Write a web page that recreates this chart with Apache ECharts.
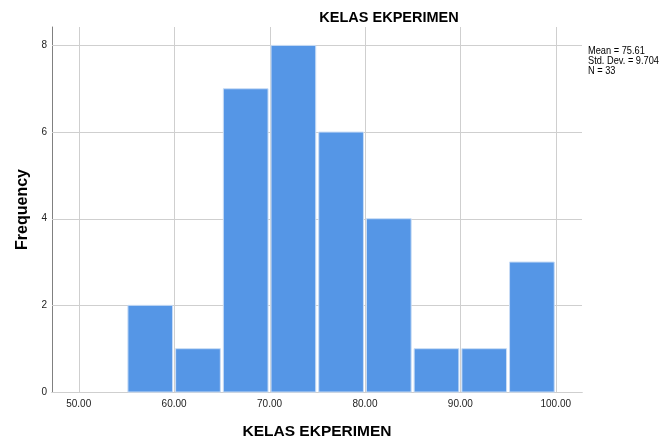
<!DOCTYPE html>
<html>
<head>
<meta charset="utf-8">
<script src="https://cdn.jsdelivr.net/npm/echarts@6/dist/echarts.min.js"></script>
<style>
  html, body { margin: 0; padding: 0; background: #ffffff; }
  #chart { width: 664px; height: 439px; }
</style>
</head>
<body>
<div id="chart"></div>
<script>
// Histogram bins (lower edge, upper edge) and their frequencies
const binStarts = [55, 60, 65, 70, 75, 80, 85, 90, 95];
const binEnds = [60, 65, 70, 75, 80, 85, 90, 95, 100];
const frequencies = [2, 1, 7, 8, 6, 4, 1, 1, 3];
const xTicks = [50, 60, 70, 80, 90, 100];
const yTicks = [0, 2, 4, 6, 8];
const statsLines = ['Mean = 75.61', 'Std. Dev. = 9.704', 'N = 33'];

const binData = binStarts.map((s, i) => [s, binEnds[i], frequencies[i]]);

const X_MIN = 47.2, X_MAX = 102.75, Y_MAX = 8.425;
const chart = echarts.init(document.getElementById('chart'));
const FONT = '"Liberation Sans", Arial, sans-serif';

chart.setOption({
  animation: false,
  backgroundColor: '#ffffff',
  graphic: [
    {
      type: 'text', x: 389, y: 17.5,
      style: { text: 'KELAS EKPERIMEN', font: 'bold 14.5px ' + FONT, fill: '#000',
               align: 'center', verticalAlign: 'middle' }
    },
    {
      type: 'text', x: 588, y: 46.5, scaleX: 0.88,
      style: { text: statsLines.join('\n'), font: '10.5px ' + FONT, fill: '#000', lineHeight: 9.8 }
    }
  ],
  grid: { left: 52, right: 82, top: 27, bottom: 47, outerBoundsMode: 'none' },
  xAxis: {
    type: 'value', min: X_MIN, max: X_MAX,
    name: 'KELAS EKPERIMEN', nameLocation: 'middle', nameGap: 32,
    nameTextStyle: { fontFamily: FONT, fontSize: 15.5, fontWeight: 'bold', color: '#000' },
    axisLine: { show: true, lineStyle: { color: '#a8a8a8', width: 1 } },
    axisTick: { show: false },
    splitLine: { show: false },
    axisLabel: { show: false }
  },
  yAxis: {
    type: 'value', min: 0, max: Y_MAX,
    name: 'Frequency', nameLocation: 'middle', nameGap: 21,
    nameTextStyle: { fontFamily: FONT, fontSize: 16, fontWeight: 'bold', color: '#000' },
    axisLine: { show: true, lineStyle: { color: '#808080', width: 1 } },
    axisTick: { show: false },
    splitLine: { show: false },
    axisLabel: { show: false }
  },
  series: [
    {
      // vertical reference lines and x tick labels
      type: 'custom', silent: true, z: 1,
      data: xTicks.map(v => [v]),
      renderItem: function (params, api) {
        const v = api.value(0);
        const top = api.coord([v, Y_MAX]);
        const bot = api.coord([v, 0]);
        const xl = Math.round(top[0]) + 0.5;
        return {
          type: 'group', children: [
            { type: 'line', shape: { x1: xl, y1: top[1], x2: xl, y2: bot[1] },
              style: { stroke: '#cfcfcf', lineWidth: 1 } },
            { type: 'text', x: bot[0], y: bot[1] + 7,
              style: { text: v.toFixed(2), font: '10px ' + FONT, fill: '#222', align: 'center', verticalAlign: 'top' } }
          ]
        };
      }
    },
    {
      // horizontal reference lines and y tick labels
      type: 'custom', silent: true, z: 1,
      data: yTicks.map(v => [v]),
      renderItem: function (params, api) {
        const v = api.value(0);
        const l = api.coord([X_MIN, v]);
        const r = api.coord([X_MAX, v]);
        const yl = Math.round(l[1]) + 0.5;
        return {
          type: 'group', children: [
            { type: 'line', shape: { x1: l[0], y1: yl, x2: r[0], y2: yl },
              style: { stroke: '#cfcfcf', lineWidth: 1 } },
            { type: 'text', x: l[0] - 5, y: l[1],
              style: { text: String(v), font: '10px ' + FONT, fill: '#222', align: 'right', verticalAlign: 'middle' } }
          ]
        };
      }
    },
    {
      // histogram bars
      type: 'custom', z: 3,
      data: binData,
      renderItem: function (params, api) {
        const p0 = api.coord([api.value(0), api.value(2)]);
        const p1 = api.coord([api.value(1), 0]);
        return {
          type: 'rect',
          shape: { x: p0[0] + 1.5, y: p0[1], width: p1[0] - p0[0] - 3, height: p1[1] - p0[1] },
          style: { fill: '#5596e6', stroke: '#c8dcf5', lineWidth: 1 }
        };
      }
    }
  ]
});
</script>
</body>
</html>
